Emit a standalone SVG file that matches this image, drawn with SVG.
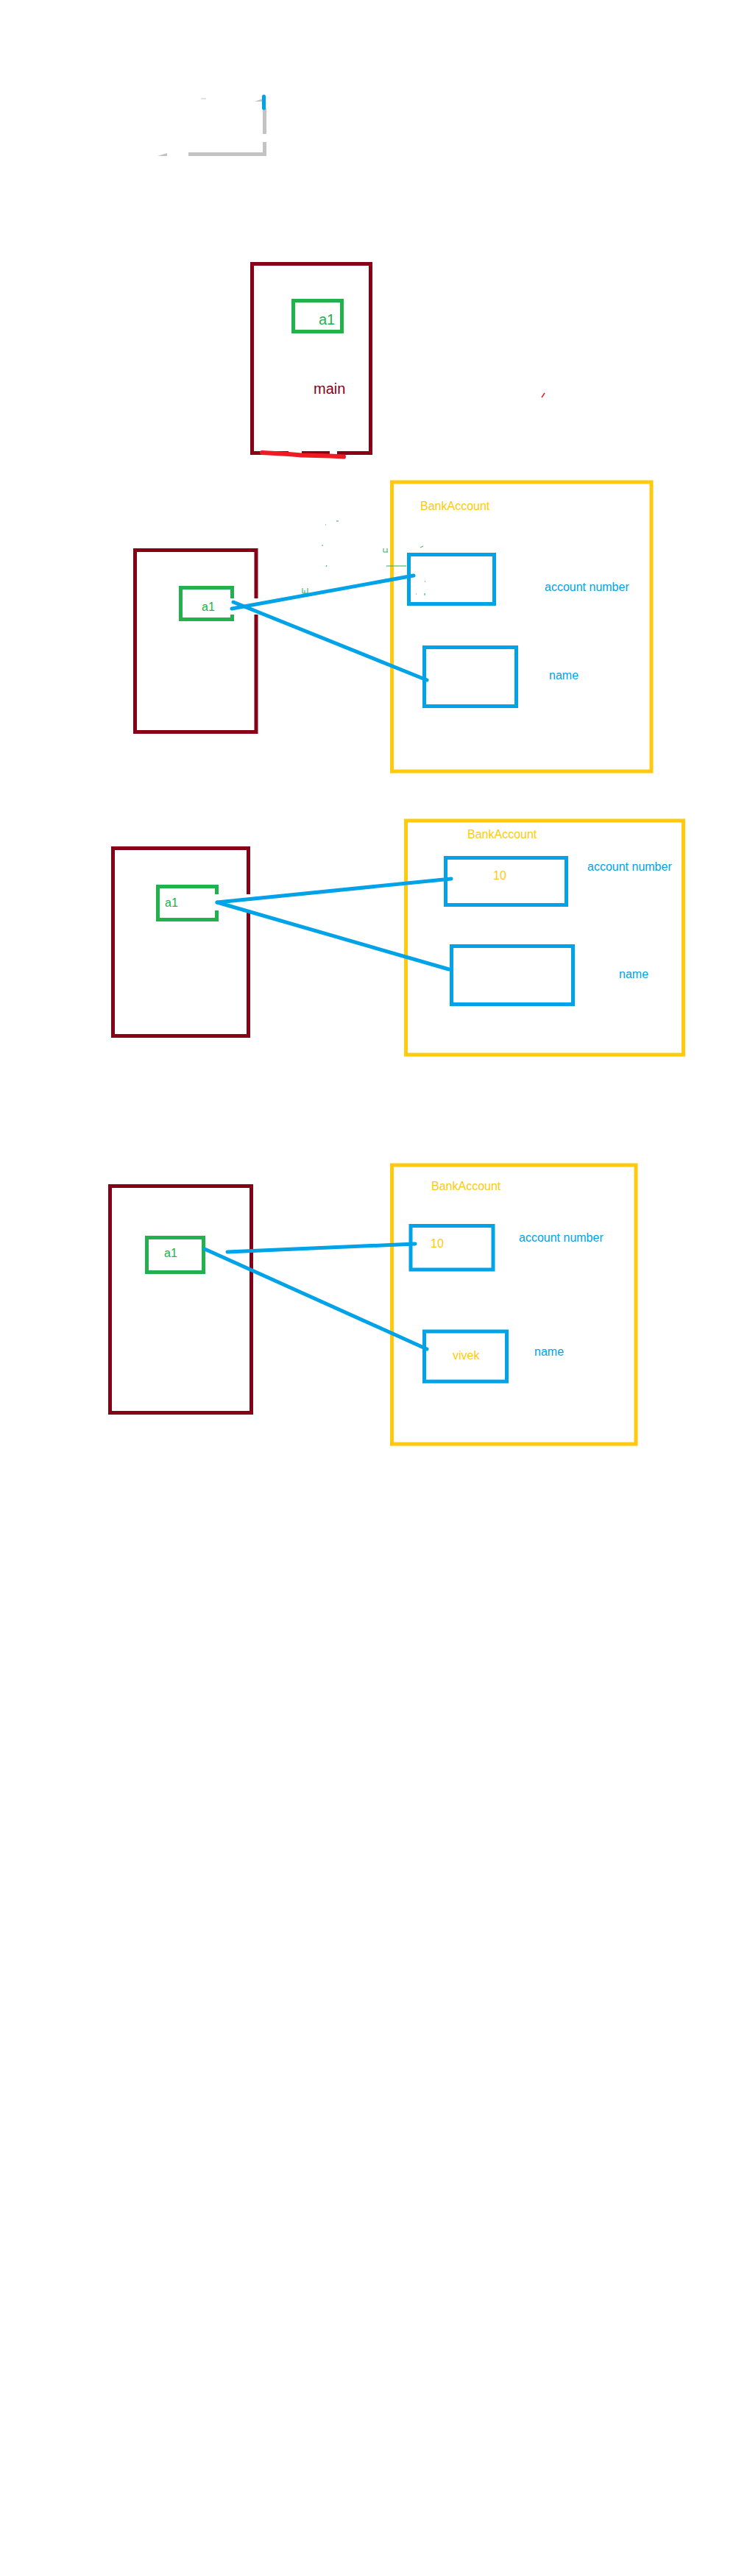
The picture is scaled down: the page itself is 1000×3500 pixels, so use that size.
<svg xmlns="http://www.w3.org/2000/svg" width="1000" height="3500" viewBox="0 0 1000 3500">
<style>
.bg{fill:#ffffff}
.frame{fill:none;stroke:#880015;stroke-width:5}
.var{fill:none;stroke:#22b14c;stroke-width:5}
.obj{fill:none;stroke:#ffc90e;stroke-width:5}
.fld{fill:none;stroke:#00a2e8;stroke-width:5}
.ref{fill:none;stroke:#00a2e8;stroke-width:5;stroke-linecap:round}
.gray{fill:none;stroke:#c3c3c3;stroke-width:5}
.t{font-family:"Liberation Sans","DejaVu Sans",sans-serif;font-size:16px}
.tg{fill:#22b14c}
.tm{fill:#880015}
.ty{fill:#ffc90e}
.tb{fill:#00a2e8}
.speck{fill:none;stroke:#22b14c;stroke-width:1}
</style>
<rect class="bg" x="0" y="0" width="1000" height="3500"/>

<g id="top-marks">
  <path class="gray" d="M359.5 147 V182 M359.5 193 V212 M256 209.5 H362"/>
  <path d="M346 138 L357 134 L357 138 Z M214 212 L227 208 L227 212 Z" fill="#c3c3c3"/>
  <path d="M273 134 H280" stroke="#c3c3c3" stroke-width="1"/>
  <line x1="358.5" y1="131" x2="358.5" y2="147" stroke="#00a2e8" stroke-width="5" stroke-linecap="round"/>
</g>

<!-- Section 1 -->
<g id="main-frame">
  <path class="frame" d="M392 615.5 H342.5 V358.5 H503.5 V615.5 H458 M410 615.5 H448"/>
  <text class="t tm" x="426" y="535" style="font-size:20px">main</text>
</g>
<g id="main-a1">
  <rect class="var" x="398.5" y="408.5" width="66" height="42"/>
  <text class="t tg" x="433" y="441" style="font-size:20px">a1</text>
</g>
<g id="scribbles">
  <polyline points="356,615 392,617 410,618.5 448,619.5 467,620.5" fill="none" stroke="#ed1c24" stroke-width="6" stroke-linecap="round" stroke-linejoin="round"/>
  <line x1="736" y1="540" x2="740" y2="534" stroke="#ed1c24" stroke-width="1.5"/>
</g>

<!-- Section 2 -->
<g id="frame-2">
  <path class="frame" d="M348 813 V747.5 H183.5 V994.5 H348 V835"/>
</g>
<g id="a1-2">
  <path class="var" d="M315.5 813 V798.5 H245.5 V841.5 H315.5 V835"/>
  <text class="t tg" x="274" y="830">a1</text>
</g>
<g id="bank-2">
  <rect class="obj" x="532.5" y="655" width="352.5" height="393"/>
  <text class="t ty" x="571" y="693">BankAccount</text>
</g>
<g id="acct-2">
  <rect class="fld" x="555.5" y="753.5" width="116" height="67"/>
  <text class="t tb" x="740" y="803">account number</text>
</g>
<g id="name-2">
  <rect class="fld" x="576.5" y="879.5" width="125" height="80"/>
  <text class="t tb" x="746" y="923">name</text>
</g>
<g id="specks-2">
  <path class="speck" d="M411 799 V806 H418 V799 M414 802 V806 M521 745 V750 H527 M526 745 V750 M525 769 H552 M457 708 H460 M442 713 H443 M437 741 H439 M443 770 L444 768 M571 744 L575 742 M577 790 H578 M565 807 H566 M577 806 V809"/>
</g>

<!-- Section 3 -->
<g id="frame-3">
  <path class="frame" d="M337.5 1215 V1152.5 H153.5 V1407.5 H337.5 V1238"/>
</g>
<g id="a1-3">
  <path class="var" d="M294.5 1215 V1204.5 H214.5 V1249.5 H294.5 V1237"/>
  <text class="t tg" x="224" y="1232">a1</text>
</g>
<g id="bank-3">
  <rect class="obj" x="551.5" y="1115" width="377" height="318"/>
  <text class="t ty" x="635" y="1139">BankAccount</text>
</g>
<g id="acct-3">
  <rect class="fld" x="605.5" y="1165.5" width="164" height="64"/>
  <text class="t ty" x="670" y="1195">10</text>
  <text class="t tb" x="798" y="1183">account number</text>
</g>
<g id="name-3">
  <rect class="fld" x="613.5" y="1285.5" width="165" height="79"/>
  <text class="t tb" x="841" y="1329">name</text>
</g>

<!-- Section 4 -->
<g id="frame-4">
  <rect class="frame" x="149.5" y="1611.5" width="192" height="308"/>
</g>
<g id="a1-4">
  <rect class="var" x="199.5" y="1681.5" width="77" height="47"/>
  <text class="t tg" x="223" y="1708">a1</text>
</g>
<g id="bank-4">
  <rect class="obj" x="532.5" y="1583" width="331.5" height="379"/>
  <text class="t ty" x="586" y="1617">BankAccount</text>
</g>
<g id="acct-4">
  <rect class="fld" x="558" y="1665.5" width="112" height="59.5"/>
  <text class="t ty" x="585" y="1695">10</text>
  <text class="t tb" x="705" y="1687">account number</text>
</g>
<g id="name-4">
  <rect class="fld" x="576.5" y="1809" width="112" height="68"/>
  <text class="t ty" x="615" y="1847">vivek</text>
  <text class="t tb" x="726" y="1842">name</text>
</g>

<g id="connectors">
  <line class="ref" x1="315" y1="827" x2="562" y2="782"/>
  <line class="ref" x1="317" y1="818" x2="580" y2="924"/>
  <line class="ref" x1="295" y1="1226" x2="613" y2="1194"/>
  <line class="ref" x1="295" y1="1226" x2="610" y2="1317"/>
  <line class="ref" x1="309" y1="1701" x2="564" y2="1690"/>
  <line class="ref" x1="278" y1="1697" x2="580" y2="1833"/>
</g>
</svg>
